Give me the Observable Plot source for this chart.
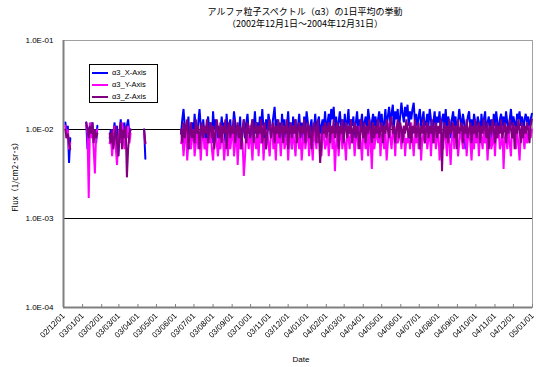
<!DOCTYPE html>
<html><head><meta charset="utf-8">
<script src="https://cdn.jsdelivr.net/npm/d3@7"></script>
<script src="https://cdn.jsdelivr.net/npm/@observablehq/plot@0.6"></script>
<style>
body{margin:0;background:#fff;}
#wrap{position:relative;width:536px;height:367px;font-family:"Liberation Sans",Arial,sans-serif;color:#000;}
#wrap svg{position:absolute;left:0;top:0;}
.t{position:absolute;white-space:nowrap;font-family:"Noto Sans CJK JP","Liberation Sans",sans-serif;font-size:9px;line-height:1;}
#legend{position:absolute;left:89px;top:64px;width:69px;height:39px;box-sizing:border-box;border:1px solid #000;background:#fff;}
.li{position:absolute;left:2px;height:10px;font-size:7.5px;line-height:10px;white-space:nowrap;}
.li span.sw{display:inline-block;width:16px;height:2px;vertical-align:middle;margin-right:4px;}
</style></head><body><div id="wrap"></div>
<script>
const title = "アルファ粒子スペクトル（α3）の1日平均の挙動";
const subtitle = "（2002年12月1日～2004年12月31日）";
const yLabel = "Flux（1/cm2･sr･s）";
const xLabel = "Date";
const seriesNames = ["α3_X-Axis", "α3_Y-Axis", "α3_Z-Axis"];
const seriesColors = ["#0000ff", "#ff00ff", "#800080"];
const yTicks = [1e-4, 1e-3, 1e-2, 1e-1];
const xStart = "2002-12-01", xEnd = "2005-01-01";
// observation segments: first day and days between samples
const segStarts = ["2002-12-04", "2003-01-07", "2003-02-14", "2003-04-11", "2003-06-10"];
const segSteps = [2, 2, 2, 2, 2];
const unit = 1e-3; // values below are in units of 1.0E-03

const xValues = [
  [12, 9, 11, 4.2, 8],
  [12, 6, 10, 11, 9, 12, 8, 10, 7, 11],
  [8, 10, 6, 9, 12, 7, 11, 5, 9, 13, 8, 10, 12, 7, 11, 13, 9, 10],
  [10, 4.7],
  [9, 13, 17, 11, 7, 10, 14, 6, 9, 12, 8, 15, 10, 7, 12, 17, 11, 8, 13, 9,
   6, 11, 14, 9, 12, 7, 16, 10, 13, 8, 11, 6, 9, 14, 10, 12, 7, 15, 9, 11,
   13, 8, 10, 16, 12, 7, 11, 9, 14, 6, 10, 13, 8, 12, 15, 9, 11, 7, 13, 10,
   16, 9, 12, 8, 14, 11, 17, 10, 7, 13, 9, 15, 12, 8, 11, 14, 18, 10, 13, 9,
   12, 7, 15, 10, 13, 8, 11, 16, 9, 12, 6, 14, 10, 13, 8, 11, 15, 9, 12, 7,
   14, 10, 16, 12, 8, 11, 13, 7, 10, 15, 9, 12, 14, 8, 11, 13, 10, 16, 9, 12,
   15, 11, 17, 13, 18, 10, 14, 9, 12, 16, 11, 13, 8, 15, 10, 12, 17, 9, 13, 11,
   14, 8, 12, 16, 10, 13, 11, 15, 9, 12, 14, 10, 17, 13, 9, 12, 15, 11, 14, 10,
   13, 16, 11, 15, 9, 12, 17, 10, 14, 18, 12, 15, 19, 11, 16, 13, 17, 10, 14, 20,
   15, 12, 18, 14, 19, 11, 16, 13, 17, 20, 12, 15, 10, 14, 17, 11, 13, 16, 9, 12,
   15, 11, 17, 13, 8, 12, 16, 10, 14, 12, 16, 9, 13, 15, 11, 17, 10, 14, 12, 8,
   13, 16, 11, 14, 9, 12, 17, 13, 10, 15, 12, 6, 11, 14, 16, 10, 13, 9, 15, 12,
   10, 14, 12, 8, 15, 11, 13, 16, 9, 12, 14, 10, 13, 7, 15, 11, 16, 12, 9, 13,
   15, 11, 14, 10, 16, 12, 9, 13, 17, 11, 14, 12, 10, 15, 13, 16, 11, 14, 9, 13,
   15, 12, 14, 10, 13, 15]
];
const yValues = [
  [11, 8, 10, 6, 7],
  [11, 9, 1.7, 12, 8, 10, 6, 3.2, 9, 10],
  [7, 9, 5, 8, 11, 6, 4, 8, 10, 7, 12, 9, 6, 10, 8, 11, 7, 9],
  [9, 7],
  [7, 9, 5, 8, 10, 4.5, 7, 9, 6, 8, 10, 5, 7, 11, 6, 9, 4.5, 8, 10, 6,
   8, 5, 9, 7, 11, 6, 4.5, 8, 10, 7, 5, 9, 6, 11, 8, 4.5, 7, 10, 5, 9,
   6, 8, 11, 5, 7, 10, 4, 8, 6, 9, 7, 3, 5, 10, 8, 6, 11, 7, 4.5, 9,
   8, 6, 10, 5, 9, 7, 11, 4.5, 8, 6, 10, 7, 5, 9, 11, 6, 8, 4.5, 10, 7,
   9, 5, 8, 11, 6, 7, 10, 4.5, 8, 9, 6, 11, 7, 5, 10, 8, 6, 9, 4.5, 7,
   11, 6, 8, 10, 5, 9, 7, 4.5, 10, 8, 6, 11, 7, 9, 5, 8, 10, 6, 7, 9,
   5, 8, 11, 6, 9, 3.4, 7, 10, 5, 8, 11, 6, 9, 7, 4.5, 10, 8, 6, 11, 7,
   9, 5, 8, 10, 6, 11, 7, 4.5, 9, 8, 6, 10, 5, 11, 7, 3.6, 9, 6, 8, 10,
   7, 11, 5, 9, 8, 6, 10, 4.5, 7, 12, 8, 6, 10, 9, 5, 11, 7, 8, 10, 6,
   9, 11, 5, 8, 7, 10, 6, 12, 8, 5, 9, 7, 11, 6, 10, 4.5, 8, 9, 7, 11,
   6, 8, 10, 5, 9, 7, 11, 6, 8, 10, 4.5, 7, 9, 6, 11, 8, 5, 10, 7, 4,
   8, 10, 6, 9, 11, 5, 7, 10, 8, 6, 9, 11, 5, 8, 10, 7, 4.5, 9, 6, 11,
   7, 9, 5, 10, 8, 6, 11, 7, 9, 4.5, 8, 10, 6, 7, 11, 5, 9, 8, 10, 6,
   7, 11, 3.6, 8, 9, 6, 10, 7, 5, 11, 8, 9, 6, 10, 7, 4.5, 9, 11, 8, 6,
   10, 7, 9, 11, 8, 10]
];
const zValues = [
  [10, 8, 9, 7, 6],
  [12, 10, 8, 11, 9, 12, 7, 10, 8, 9],
  [9, 7, 10, 6, 8, 11, 7, 5, 9, 12, 6, 10, 8, 11, 2.9, 6, 9, 10],
  [10, 7],
  [10, 7, 12, 8, 11, 13, 6, 9, 12, 8, 10, 7, 13, 9, 11, 6, 10, 12, 8, 11,
   9, 13, 7, 10, 12, 8, 11, 6, 9, 13, 10, 8, 12, 7, 11, 9, 13, 6, 10, 12,
   8, 11, 9, 13, 7, 10, 12, 8, 11, 6, 10, 13, 9, 7, 12, 10, 8, 11, 13, 7,
   10, 12, 8, 11, 9, 13, 7, 10, 12, 6, 9, 11, 13, 8, 10, 12, 7, 11, 9, 13,
   8, 10, 12, 7, 11, 9, 13, 6, 10, 12, 8, 11, 9, 13, 7, 10, 12, 8, 11, 9,
   13, 7, 10, 12, 8, 11, 6, 9, 12, 10, 7, 13, 9, 4.2, 7, 11, 9, 12, 8, 10,
   12, 7, 11, 9, 13, 8, 10, 12, 6, 11, 9, 13, 7, 10, 12, 8, 11, 9, 13, 7,
   10, 12, 8, 11, 9, 6, 13, 10, 8, 12, 7, 11, 9, 13, 10, 7, 12, 8, 11, 9,
   13, 8, 10, 12, 7, 11, 9, 13, 10, 8, 12, 14, 9, 11, 7, 10, 13, 8, 12, 10,
   7, 11, 9, 13, 10, 8, 12, 7, 11, 9, 13, 8, 10, 12, 6, 11, 9, 13, 7, 10,
   12, 8, 11, 9, 13, 7, 10, 12, 8, 11, 9, 13, 3.4, 10, 12, 8, 11, 7, 13, 9,
   10, 12, 8, 11, 6, 13, 9, 10, 12, 7, 11, 9, 13, 8, 10, 12, 7, 11, 9, 13,
   8, 10, 12, 7, 11, 9, 13, 10, 8, 12, 6, 11, 9, 13, 10, 7, 12, 8, 11, 9,
   13, 8, 10, 12, 7, 11, 9, 13, 10, 8, 12, 6, 11, 9, 13, 10, 7, 12, 8, 11,
   9, 12, 10, 7, 11, 13]
];

const parse = s => new Date(s + "T00:00:00Z");
const rows = [];
[xValues, yValues, zValues].forEach((vals, s) => {
  vals.forEach((seg, k) => {
    const start = parse(segStarts[k]);
    seg.forEach((v, i) => rows.push({
      series: seriesNames[s], seg: k,
      date: d3.utcDay.offset(start, i * segSteps[k]),
      flux: v * unit
    }));
  });
});

const months = d3.utcMonths(parse(xStart), d3.utcDay.offset(parse(xEnd), 1));
const fmtY = d => d.toExponential(1).toUpperCase().replace(/E-(\d)$/, "E-0$1");

const chart = Plot.plot({
  width: 536, height: 367,
  marginLeft: 63, marginRight: 4, marginTop: 40, marginBottom: 60,
  style: {fontFamily: "Liberation Sans, Arial, sans-serif", fontSize: "8px", background: "transparent", color: "#000"},
  x: {type: "utc", domain: [parse(xStart), parse(xEnd)]},
  y: {type: "log", domain: [yTicks[0], yTicks[yTicks.length - 1]]},
  marks: [
    Plot.frame({stroke: "#a0a0a0"}),
    Plot.ruleY(yTicks.slice(1, 3), {stroke: "#000", strokeWidth: 1}),
    ...seriesNames.map((name, s) => Plot.line(rows.filter(d => d.series === name), {
      x: "date", y: "flux", z: "seg", stroke: seriesColors[s], strokeWidth: 2, strokeLinejoin: "miter"
    })),
    Plot.ruleX([parse(xStart)], {stroke: "#808080", strokeWidth: 2}),
    Plot.ruleY([yTicks[0]], {stroke: "#808080", strokeWidth: 2}),
    Plot.axisY({ticks: yTicks, tickFormat: fmtY, tickSize: 0, tickPadding: 10, label: null, fill: "#000"}),
    Plot.axisX({ticks: months, tickSize: 3, dy: -3, tickFormat: () => "", label: null, stroke: "#808080"}),
    Plot.axisX({ticks: months, tickSize: 0, tickPadding: 7, tickRotate: -45, tickFormat: d3.utcFormat("%y/%m/%d"), label: null, fill: "#000"})
  ]
});

// grayscale filter so the rotated labels render without colour fringes
const svg = d3.select(chart);
const defs = svg.insert("defs", ":first-child");
defs.append("filter").attr("id", "gray").attr("x", 0).attr("y", 0).attr("width", 1).attr("height", 1)
  .append("feColorMatrix").attr("type", "saturate").attr("values", 0);
svg.selectAll('g[aria-label="x-axis tick label"]').attr("filter", "url(#gray)");

const wrap = document.getElementById("wrap");
wrap.appendChild(chart);

function addText(txt, css) {
  const d = document.createElement("div");
  d.className = "t";
  d.textContent = txt;
  Object.assign(d.style, css);
  wrap.appendChild(d);
  return d;
}
addText(title, {left: "305px", top: "7px", transform: "translateX(-50%)"});
addText(subtitle, {left: "305px", top: "19px", transform: "translateX(-50%)"});
addText(xLabel, {left: "301px", top: "356px", transform: "translateX(-50%)", fontFamily: "Liberation Sans, Arial, sans-serif", fontSize: "8px"});
addText(yLabel, {left: "15px", top: "175px", transform: "translate(-50%,-50%) rotate(-90deg)", fontSize: "8px"});

const legend = document.createElement("div");
legend.id = "legend";
seriesNames.forEach((name, s) => {
  const li = document.createElement("div");
  li.className = "li";
  li.style.top = (3 + s * 12) + "px";
  const sw = document.createElement("span");
  sw.className = "sw";
  sw.style.background = seriesColors[s];
  li.appendChild(sw);
  li.appendChild(document.createTextNode(name));
  legend.appendChild(li);
});
wrap.appendChild(legend);
</script></body></html>
